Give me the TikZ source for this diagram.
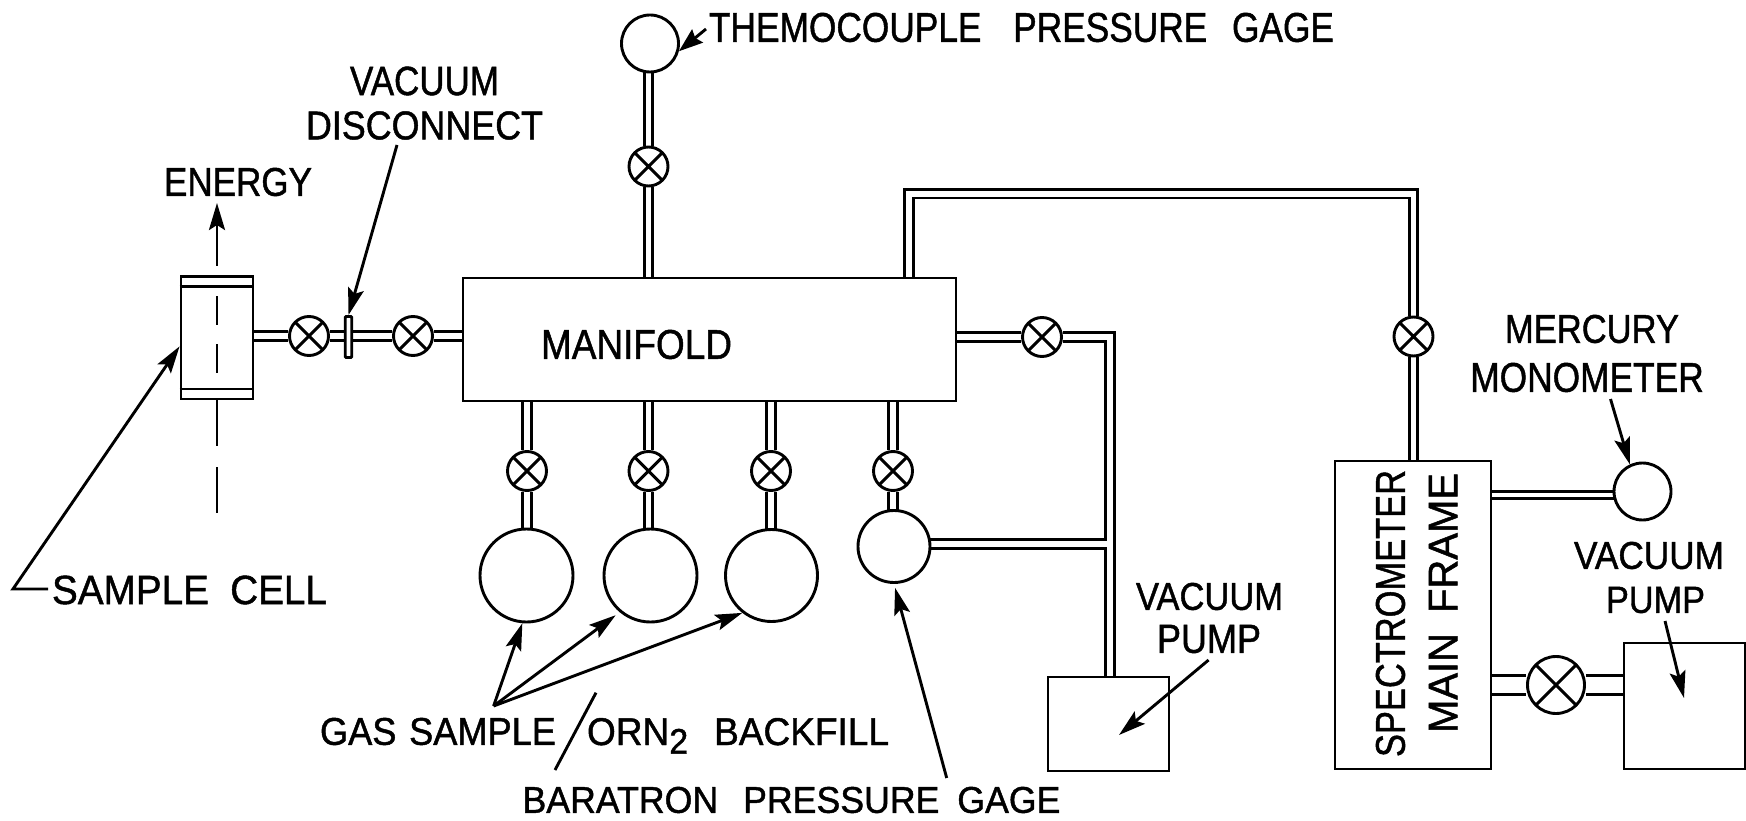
\documentclass[tikz,border=0pt]{standalone}
\usepackage{fontspec}
\usepackage{graphicx}
\setmainfont[FakeBold=1.2]{Liberation Sans}
\usetikzlibrary{arrows.meta,backgrounds}
\newcommand{\lbl}[3]{\resizebox{#1pt}{#2pt}{\fontsize{36}{40}\selectfont #3}}
\tikzset{
  wire/.style={line width=2.9pt,draw=black},
  pipe/.style={line width=2.9pt,double=white,double distance=5.8pt,line join=miter},
  bigpipe/.style={pipe,double distance=15.5pt},
  thinpipe/.style={pipe,double distance=4.5pt},
  box/.style={rectangle,wire,fill=white,inner sep=0pt},
  ball/.style={circle,wire,fill=white,inner sep=0pt,minimum size=#1},
  valve/.style={ball=#1,path picture={
     \draw[line width=2.9pt] (path picture bounding box.north west)--(path picture bounding box.south east)
       (path picture bounding box.north east)--(path picture bounding box.south west);}},
  valve/.default=39pt,
  arr/.style={wire,-{Stealth[length=27pt,width=16pt,inset=5pt]}},
  plain/.style={inner sep=0pt,outer sep=0pt}
}
\begin{document}
\begin{tikzpicture}[x=1pt,y=-1pt]
\useasboundingbox (0,0) rectangle (1746,821);
% boxes
\node[box,minimum width=72pt,minimum height=122.5pt] (cell) at (217,337.75) {};
\node[box,minimum width=493pt,minimum height=123pt] (mani) at (709.5,339.5) {};
\node[box,minimum width=121pt,minimum height=94pt] (pumpa) at (1108.5,724) {};
\node[box,minimum width=156pt,minimum height=308pt] (spec) at (1413,615) {};
\node[box,minimum width=121pt,minimum height=126pt] (pumpb) at (1684.5,706) {};
\node[box,rounded corners=1pt,minimum width=6.5pt,minimum height=41pt] (disc) at (348.5,337) {};
% valves
\node[valve] (va) at (309,336) {};
\node[valve] (vb) at (413,336) {};
\node[valve] (vt) at (648.5,166.5) {};
\node[valve] (vc) at (527,471) {};
\node[valve] (vd) at (648.5,471) {};
\node[valve] (ve) at (771,471) {};
\node[valve] (vf) at (893,471) {};
\node[valve] (vg) at (1042,337) {};
\node[valve] (vh) at (1413.5,336.5) {};
\node[valve=57pt] (vi) at (1556,685) {};
% gauges and bulbs
\node[ball=57pt] (tcg) at (650,43.5) {};
\node[ball=93pt] (sa) at (526.5,575.5) {};
\node[ball=93pt] (sb) at (650.5,575.5) {};
\node[ball=92pt] (sc) at (771.5,575.5) {};
\node[ball=72pt] (bar) at (894,546.5) {};
\node[ball=57pt] (mono) at (1642.5,491.5) {};
% pipes
\begin{scope}[on background layer]
\draw[pipe] (va -| cell) -- (va) -- (vb) -- (vb -| mani);
\draw[pipe] (vt |- tcg) -- (vt) -- (vt |- mani);
\draw[pipe] (vc |- mani) -- (vc) -- (vc |- sa);
\draw[pipe] (vd |- mani) -- (vd) -- (vd |- sb);
\draw[pipe] (ve |- mani) -- (ve) -- (ve |- sc);
\draw[pipe] (vf |- mani) -- (vf) -- (vf |- bar);
\coordinate (cr) at (1110,337);
\draw[pipe] (vg -| mani) -- (vg) -- (cr) -- (cr |- pumpa);
\coordinate (ct) at (1106.6,544);
\draw[pipe] (ct -| bar) -- (ct);
\draw[white,line width=5.8pt] (1100,544) -- (1112,544);
\coordinate (cu) at (909,193.7);
\draw[pipe] (cu |- mani) -- (cu) -- (cu -| vh) -- (vh) -- (vh |- spec);
\draw[thinpipe] (spec |- 0,495) -- (mono |- 0,495);
\draw[bigpipe] (spec |- vi) -- (vi) -- (vi -| pumpb);
\end{scope}
% cell details
\draw[wire] ([yshift=-11.5pt]cell.north west) -- ([yshift=-11.5pt]cell.north east);
\draw[wire] ([yshift=11.5pt]cell.south west) -- ([yshift=11.5pt]cell.south east);
\coordinate (en) at (217,266);
\coordinate (et) at (217,203);
\draw[arr] (en) -- (et);
\draw[wire] (217,296) -- (217,325);
\draw[wire] (217,344) -- (217,373);
\draw[wire] (217,400) -- (217,446);
\draw[wire] (217,467) -- (217,513);
% labels
\node[plain] (tenergy) at (238,182) {\lbl{148}{28}{ENERGY}};
\node[plain] (tvac) at (424.5,81) {\lbl{149}{28.5}{VACUUM}};
\node[plain] (tdisc) at (424.5,125.5) {\lbl{237}{28}{DISCONNECT}};
\node[plain] (tcell) at (189.5,590) {\lbl{275}{28.5}{SAMPLE\hspace{0.55em}CELL}};
\node[plain] (tth) at (1021.5,27.5) {\lbl{625}{29}{THEMOCOUPLE\hspace{0.9em}PRESSURE\hspace{0.7em}GAGE}};
\node[plain] (tman) at (636.5,344.5) {\lbl{191}{29}{MANIFOLD}};
\node[plain] (tgas) at (438,731.5) {\lbl{236}{27}{GAS\hspace{0.35em}SAMPLE}};
\node[plain,anchor=base west] (torn) at (587,745) {\lbl{302}{27}{ORN\raisebox{-8pt}{\fontsize{33}{33}\selectfont 2}\hspace{0.7em}BACKFILL}};
\node[plain] (tbar) at (791.5,800) {\lbl{538}{26}{BARATRON\hspace{0.7em}PRESSURE\hspace{0.5em}GAGE}};
\node[plain] (tpa) at (1209.5,596.5) {\lbl{147}{27}{VACUUM}};
\node[plain] (tpb) at (1209,639) {\lbl{104}{28}{PUMP}};
\node[plain] (tmer) at (1592,329) {\lbl{174}{28}{MERCURY}};
\node[plain] (tmon) at (1587,377.5) {\lbl{233.5}{29}{MONOMETER}};
\node[plain] (tqa) at (1649,555.5) {\lbl{150}{27}{VACUUM}};
\node[plain] (tqb) at (1655.5,600) {\lbl{99}{26}{PUMP}};
\node[plain,rotate=90] (tspec) at (1390.5,613.5) {\lbl{287}{29}{SPECTROMETER}};
\node[plain,rotate=90] (tmain) at (1443,603) {\lbl{260}{28.5}{MAIN\hspace{0.5em}FRAME}};
% leaders
\coordinate (la) at (397,145);
\draw[arr] (la) -- (disc.north);
\coordinate (lb) at (48,589);
\coordinate (lc) at (13,589);
\draw[arr] (lb) -- (lc) -- (cell.193);
\coordinate (ld) at (493.6,706);
\draw[arr] (ld) -- (sa.265);
\draw[arr,shorten >=5pt] (ld) -- (sb.230);
\draw[arr] (ld) -- (sc.232);
\coordinate (le) at (596,692.7);
\coordinate (lf) at (555,770);
\draw[wire] (le) -- (lf);
\coordinate (lg) at (946.7,778);
\draw[arr,shorten >=4pt] (lg) -- (bar.south);
\coordinate (lh) at (706,29);
\draw[wire,-{Stealth[length=24pt,width=17pt,inset=3pt]}] (lh) -- (tcg.-15);
\coordinate (li) at (1208.6,660);
\coordinate (lj) at (1119,735);
\draw[arr] (li) -- (lj);
\coordinate (lk) at (1610.5,399);
\draw[arr] (lk) -- (mono.115);
\coordinate (ll) at (1665,621);
\coordinate (lm) at (1684,698);
\draw[arr] (ll) -- (lm);
\end{tikzpicture}
\end{document}
